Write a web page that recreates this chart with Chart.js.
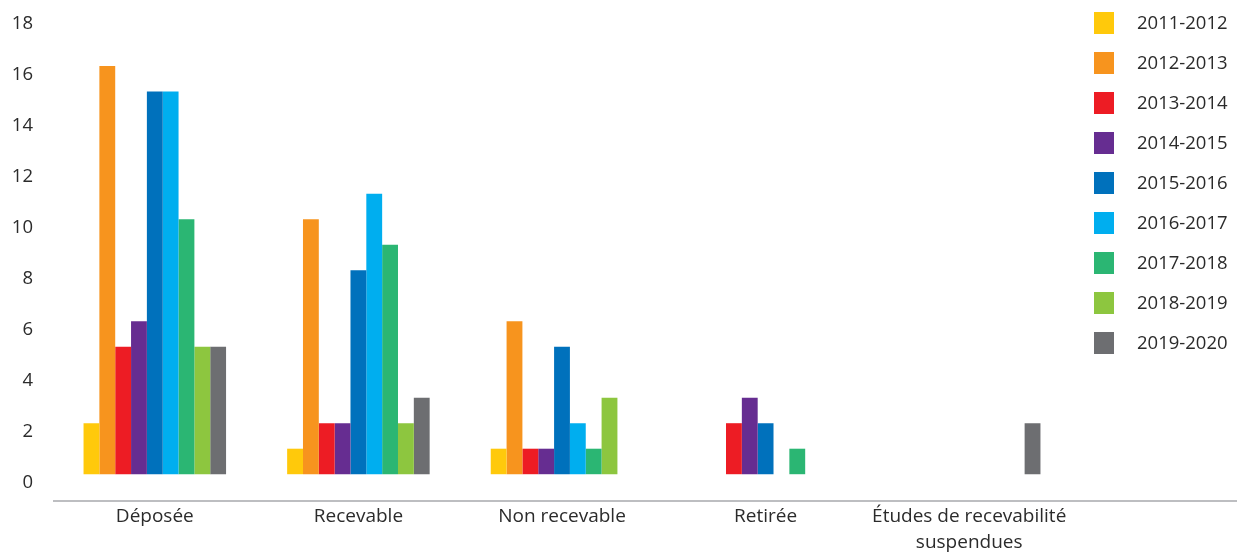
<!DOCTYPE html>
<html>
<head>
<meta charset="utf-8">
<script src="https://cdn.jsdelivr.net/npm/chart.js@4.4.1/dist/chart.umd.min.js"></script>
<style>
  html, body { margin: 0; padding: 0; background: #fff; }
  #wrap { position: relative; width: 1241px; height: 552px; }
</style>
</head>
<body>
<div id="wrap"><canvas id="chart"></canvas></div>
<script>
// categories and tick labels
var CATEGORIES = ['Déposée', 'Recevable', 'Non recevable', 'Retirée', ['Études de recevabilité', 'suspendues']];
var Y_TICKS = [0, 2, 4, 6, 8, 10, 12, 14, 16, 18];

// one array per year, in category order
var SEASONS = ['2011-2012', '2012-2013', '2013-2014', '2014-2015', '2015-2016',
               '2016-2017', '2017-2018', '2018-2019', '2019-2020'];
var V_2011 = [2, 1, 1, 0, 0];
var V_2012 = [16, 10, 6, 0, 0];
var V_2013 = [5, 2, 1, 2, 0];
var V_2014 = [6, 2, 1, 3, 0];
var V_2015 = [15, 8, 5, 2, 0];
var V_2016 = [15, 11, 2, 0, 0];
var V_2017 = [10, 9, 1, 1, 0];
var V_2018 = [5, 2, 3, 0, 0];
var V_2019 = [5, 3, 0, 0, 2];
var SERIES = [V_2011, V_2012, V_2013, V_2014, V_2015, V_2016, V_2017, V_2018, V_2019];

var COLORS = ['#ffc90b', '#f7941e', '#ed1c24', '#662d91', '#0071bc',
              '#00aeef', '#2bb673', '#8dc63f', '#6d6e71'];

// bars in the source sit a little above the zero line
var BAR_BASE = 0.35;

var FONT = "'Open Sans', 'DejaVu Sans', sans-serif";
var TEXT = '#2b2b2b';

// legend drawn by hand so box size / spacing can match
var sideLegend = {
  id: 'sideLegend',
  afterDraw: function (chart) {
    var ctx = chart.ctx;
    var x0 = chart.chartArea.right + 23;
    ctx.save();
    ctx.font = '18.5px ' + FONT;
    ctx.textBaseline = 'middle';
    chart.data.datasets.forEach(function (ds, i) {
      var y = 12 + i * 40;
      ctx.fillStyle = ds.backgroundColor;
      ctx.fillRect(x0, y, 20, 22);
      ctx.fillStyle = TEXT;
      ctx.fillText(ds.label, x0 + 43, y + 12);
    });
    ctx.restore();
  }
};

// base line runs on to the right edge
var baseLine = {
  id: 'baseLine',
  beforeDatasetsDraw: function (chart) {
    var ctx = chart.ctx, a = chart.chartArea;
    ctx.save();
    ctx.strokeStyle = '#a7a9ac';
    ctx.lineWidth = 1.5;
    ctx.beginPath();
    ctx.moveTo(a.left, a.bottom);
    ctx.lineTo(chart.width - 4, a.bottom);
    ctx.stroke();
    ctx.restore();
  }
};

var datasets = SEASONS.map(function (s, i) {
  return {
    label: s,
    data: SERIES[i].map(function (v) { return [BAR_BASE, v + BAR_BASE]; }),
    backgroundColor: COLORS[i],
    borderWidth: 0,
    categoryPercentage: 0.70,
    barPercentage: 1.0
  };
});

new Chart(document.getElementById('chart'), {
  type: 'bar',
  data: { labels: CATEGORIES, datasets: datasets },
  options: {
    responsive: true, maintainAspectRatio: false, animation: false,
    layout: { padding: { left: 13, right: 170, top: 24, bottom: 0 } },
    plugins: { legend: { display: false }, tooltip: { enabled: false } },
    scales: {
      x: {
        grid: { display: false, drawTicks: false },
        border: { display: false },
        afterFit: function (scale) { scale.height = 51; },
        ticks: { color: TEXT, padding: 3, font: { family: FONT, size: 19, lineHeight: '26px' } }
      },
      y: {
        min: -0.7, max: 18,
        grid: { display: false, drawTicks: false },
        border: { display: false },
        afterBuildTicks: function (scale) {
          scale.ticks = Y_TICKS.map(function (v) { return { value: v }; });
        },
        afterFit: function (scale) {
          scale.width = 40;
          scale.paddingTop = 0;
          scale.paddingBottom = 0;
        },
        ticks: { color: TEXT, padding: 20, font: { family: FONT, size: 18.5 } }
      }
    }
  },
  plugins: [baseLine, sideLegend]
});
</script>
</body>
</html>
